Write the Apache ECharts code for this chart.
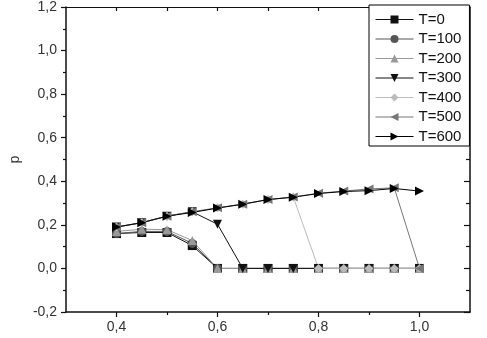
<!DOCTYPE html>
<html><head><meta charset="utf-8">
<script src="https://cdn.jsdelivr.net/npm/echarts@6/dist/echarts.min.js"></script>
<style>html,body{margin:0;padding:0;background:#fff}#c{width:487px;height:338px}</style>
</head><body><div id="c"></div>
<script>
const xValues = [0.4,0.45,0.5,0.55,0.6,0.65,0.7,0.75,0.8,0.85,0.9,0.95,1.0];
const seriesNames = ['T=0','T=100','T=200','T=300','T=400','T=500','T=600'];
const T0   = [0.16,0.165,0.165,0.105,0,0,0,0,0,0,0,0,0];
const T100 = [0.16,0.17,0.17,0.115,0,0,0,0,0,0,0,0,0];
const T200 = [0.17,0.18,0.178,0.128,0,0,0,0,0,0,0,0,0];
const T300 = [0.19,0.21,0.24,0.26,0.203,0,0,0,0,0,0,0,0];
const T400 = [0.19,0.21,0.24,0.26,0.278,0.295,0.316,0.328,0,0,0,0,0];
const T500 = [0.19,0.21,0.24,0.26,0.278,0.295,0.316,0.328,0.345,0.355,0.365,0.37,0];
const T600 = [0.19,0.21,0.24,0.257,0.277,0.295,0.316,0.327,0.344,0.353,0.357,0.367,0.355];
const xMajorTicks = [0.4,0.6,0.8,1.0];
const xMinorTicks = [0.5,0.7,0.9];

const allData = [T0,T100,T200,T300,T400,T500,T600];
const colors = ['#111111','#555555','#999999','#111111','#bbbbbb','#777777','#000000'];
const symbols = ['rect','circle','triangle','path://M0,0L10,0L5,9Z','diamond','path://M9,0L9,10L0,5Z','path://M0,0L9,5L0,10Z'];
const font = 'Liberation Sans, Arial, sans-serif';

const chart = echarts.init(document.getElementById('c'), null, {renderer:'canvas'});
chart.setOption({
  animation:false,
  backgroundColor:'#fff',
  grid:{left:55,right:17,top:7,bottom:26,containLabel:false},
  legend:{
    orient:'vertical', left:369, top:5,
    padding:[7,8,2,6], itemGap:4.5, itemWidth:38, itemHeight:10,
    borderColor:'#000', borderWidth:1, backgroundColor:'#fff',
    lineStyle:{width:1},
    textStyle:{fontSize:15,lineHeight:15,color:'#111',fontFamily:font},
    data:seriesNames
  },
  xAxis:[
    {type:'value',position:'bottom',min:0.3,max:1.1,interval:0.1,
     axisLine:{onZero:false,lineStyle:{color:'#111',width:1.5}},
     axisTick:{customValues:xMajorTicks,length:5,lineStyle:{color:'#111',width:1.2}},
     axisLabel:{customValues:xMajorTicks,formatter:v=>v.toFixed(1).replace('.',','),fontSize:14,color:'#333',fontFamily:font,margin:8},
     splitLine:{show:false}},
    {type:'value',position:'bottom',min:0.3,max:1.1,interval:0.1,
     axisLine:{show:false,onZero:false},
     axisTick:{customValues:xMinorTicks,length:3,lineStyle:{color:'#111',width:1.2}},
     axisLabel:{show:false},splitLine:{show:false}},
    {type:'value',position:'top',min:0.3,max:1.1,interval:0.1,
     axisLine:{onZero:false,lineStyle:{color:'#111',width:1}},
     axisTick:{inside:true,customValues:[0.4,0.5,0.6,0.7,0.8,0.9,1.0],length:4,lineStyle:{color:'#111',width:1.2}},
     axisLabel:{show:false},splitLine:{show:false}}
  ],
  yAxis:[
    {type:'value',position:'left',min:-0.2,max:1.2,interval:0.2,
     name:'p',nameLocation:'middle',nameGap:40,nameRotate:90,
     nameTextStyle:{fontSize:14,color:'#333',fontFamily:font},
     axisLine:{show:true,onZero:false,lineStyle:{color:'#111',width:1.5}},
     axisTick:{show:true,length:5,lineStyle:{color:'#111',width:1.2}},
     minorTick:{show:true,splitNumber:2,length:3,lineStyle:{color:'#111',width:1.2}},
     axisLabel:{formatter:v=>v.toFixed(1).replace('.',','),fontSize:14,color:'#333',fontFamily:font,margin:9},
     splitLine:{show:false},minorSplitLine:{show:false}},
    {type:'value',position:'right',min:-0.2,max:1.2,interval:0.2,
     axisLine:{show:true,onZero:false,lineStyle:{color:'#111',width:1.5}},
     axisTick:{show:true,inside:true,length:6,lineStyle:{color:'#111',width:1.2}},
     minorTick:{show:true,splitNumber:2,length:4,lineStyle:{color:'#111',width:1.2}},
     axisLabel:{show:false},splitLine:{show:false},minorSplitLine:{show:false}}
  ],
  series: seriesNames.map((n,i)=>({
    name:n,type:'line',xAxisIndex:0,yAxisIndex:0,
    data:xValues.map((x,j)=>[x,allData[i][j]]),
    symbol:symbols[i],symbolSize:9,showAllSymbol:true,
    itemStyle:{color:colors[i]},
    lineStyle:{color:colors[i],width:1}
  }))
});
</script></body></html>
